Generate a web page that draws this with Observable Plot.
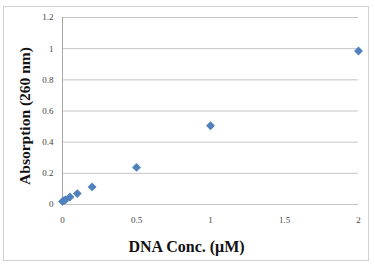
<!DOCTYPE html>
<html><head><meta charset="utf-8">
<script src="https://cdn.jsdelivr.net/npm/d3@7"></script>
<script src="https://cdn.jsdelivr.net/npm/@observablehq/plot@0.6"></script>
<style>
html,body{margin:0;padding:0;background:#fff;}
#wrap{position:relative;width:375px;height:266px;}
#border{position:absolute;left:3px;top:6px;width:366px;height:255px;border:1px solid #d0d0d0;box-sizing:border-box;pointer-events:none;}
</style></head>
<body><div id="wrap"><div id="border"></div></div>
<script>
const conc = [0, 0.01, 0.02, 0.05, 0.1, 0.2, 0.5, 1, 2];
const absorb = [0.02, 0.025, 0.03, 0.048, 0.07, 0.113, 0.238, 0.505, 0.985];
const xTicks = [0, 0.5, 1, 1.5, 2];
const yTicks = [0, 0.2, 0.4, 0.6, 0.8, 1, 1.2];
const xTitle = "DNA Conc. (μM)";
const yTitle = "Absorption (260 nm)";
const data = conc.map((c, i) => ({c, a: absorb[i]}));

const chart = Plot.plot({
  width: 375, height: 266,
  marginLeft: 62, marginRight: 17, marginTop: 17, marginBottom: 62,
  style: {fontFamily: "'Liberation Serif', serif", background: "transparent"},
  x: {domain: [0, 2], ticks: xTicks, tickFormat: d => String(d), label: null},
  y: {domain: [0, 1.2], ticks: yTicks, tickFormat: d => String(d), label: null},
  marks: [
    Plot.ruleY(yTicks, {stroke: "#c4c4c4", strokeWidth: 1}),
    Plot.ruleX([0], {stroke: "#a8a8a8", strokeWidth: 1}),
    Plot.axisX({ticks: xTicks, tickSize: 0, tickPadding: 12, fontSize: 9, fill: "#444", tickFormat: d => String(d), label: null}),
    Plot.axisY({ticks: yTicks, tickSize: 0, tickPadding: 9, fontSize: 9, fill: "#444", tickFormat: d => String(d), label: null}),
    Plot.dot(data, {x: "c", y: "a", symbol: "diamond2", r: 4, fill: "#4f81bd", stroke: "none"}),
    Plot.text([xTitle], {frameAnchor: "bottom", text: d => d, dy: 47, dx: -24, fontSize: 16, fontWeight: "bold", fill: "#111"}),
    Plot.text([yTitle], {frameAnchor: "left", textAnchor: "middle", text: d => d, dx: -37, dy: 5, rotate: -90, fontSize: 15.5, fontWeight: "bold", fill: "#111"})
  ]
});
document.getElementById("wrap").appendChild(chart);
chart.style.position = "absolute"; chart.style.left = "0"; chart.style.top = "0";
</script></body></html>
